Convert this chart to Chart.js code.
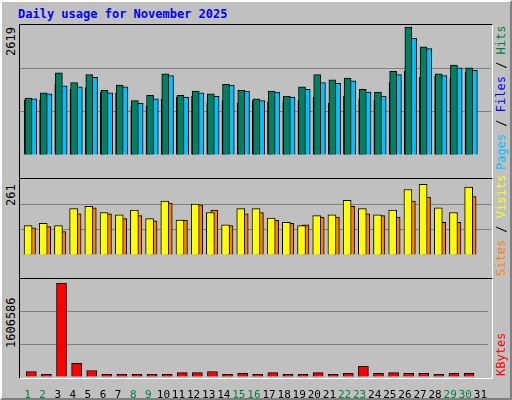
<!DOCTYPE html>
<html><head><meta charset="utf-8">
<script src="https://cdn.jsdelivr.net/npm/chart.js@4"></script>
<style>
body{margin:0;width:512px;height:400px;overflow:hidden;background:#c0c0c0;font-family:"DejaVu Sans Mono",monospace}
#frame{position:absolute;left:0;top:0;width:508px;height:396px;border-top:2px solid #fff;border-left:2px solid #fff;border-right:2px solid #808080;border-bottom:2px solid #808080}
#title{position:absolute;left:18px;top:7px;color:#0000ff;font-weight:bold;font-size:12px}
.panel{position:absolute;left:19px;width:472px;border-top:1px solid #000;border-left:1px solid #000;border-right:1px solid #fff;border-bottom:1px solid #fff}
.vl{position:absolute;transform:rotate(-90deg);transform-origin:left top;white-space:nowrap;font-size:12px}
</style></head><body>
<div id="frame"></div>
<div id="title">Daily usage for November 2025</div>
<div class="panel" style="top:24px;height:153px"></div>
<div class="panel" style="top:178px;height:99px"></div>
<div class="panel" style="top:278px;height:99px"></div>
<canvas id="c1" width="471" height="152" style="position:absolute;left:20px;top:25px;width:471px;height:152px"></canvas>
<canvas id="c2" width="471" height="98" style="position:absolute;left:20px;top:179px;width:471px;height:98px"></canvas>
<canvas id="c3" width="471" height="120" style="position:absolute;left:20px;top:279px;width:471px;height:120px"></canvas>
<div class="vl" style="left:4px;top:56px">2619</div>
<div class="vl" style="left:4px;top:206px">261</div>
<div class="vl" style="left:4px;top:348px">1606586</div>
<div class="vl" style="left:494px;top:170px"><span style="color:#00c0ff">Pages</span> / <span style="color:#0000ff">Files</span> / <span style="color:#008040">Hits</span></div>
<div class="vl" style="left:494px;top:276px"><span style="color:#ff8000">Sites</span> / <span style="color:#ffff00">Visits</span></div>
<div class="vl" style="left:494px;top:376px"><span style="color:#ff0000">KBytes</span></div>
<script>
const days=[1,2,3,4,5,6,7,8,9,10,11,12,13,14,15,16,17,18,19,20,21,22,23,24,25,26,27,28,29,30,31];
const hits=[1147,1252,1653,1461,1618,1304,1409,1095,1200,1636,1200,1287,1234,1426,1304,1130,1287,1182,1374,1618,1514,1548,1322,1269,1688,2579,2177,1636,1811,1758,0];
const files=[1130,1234,1392,1374,1566,1252,1374,1042,1130,1601,1165,1252,1182,1409,1287,1095,1269,1165,1322,1461,1444,1496,1269,1182,1618,2352,2142,1601,1758,1706,0];
const pages=[1112,1112,1426,1322,1357,1269,1252,973,990,1130,1165,1182,1060,1095,1042,1095,1077,1077,1095,1165,1042,1182,1130,1095,1461,1688,1566,1583,1548,1671,0];
const visits=[101,109,101,159,167,146,138,154,125,185,120,175,146,104,159,159,127,112,101,135,138,188,159,138,154,225,243,162,146,233,0];
const sites=[93,98,80,141,162,141,125,135,117,178,120,172,154,101,141,146,120,109,104,130,130,167,141,135,130,185,199,112,112,201,0];
const kbytes=[89900,45000,1539000,224700,106700,45000,45000,45000,45000,45000,73000,73000,89900,45000,61800,45000,73000,45000,45000,73000,45000,61800,174000,61800,73000,61800,61800,45000,61800,61800,0];
const weekend=[1,2,8,9,15,16,22,23,29,30];
const pts=(arr,off)=>arr.map((v,i)=>({x:days[i]+off,y:v}));
function ds(arr,off,color,w){return {data:pts(arr,off),backgroundColor:color,borderColor:'#000',borderWidth:1,borderSkipped:'bottom',barThickness:w,grouped:false};}
function mk(id,datasets,max,showX){
  return new Chart(document.getElementById(id),{type:'bar',data:{datasets},
    options:{responsive:false,devicePixelRatio:1,animation:false,layout:{padding:0},
      plugins:{legend:{display:false},tooltip:{enabled:false}},
      scales:{
        x:{type:'linear',min:0.5,max:31.5,offset:false,grid:{display:false},border:{display:false},
          display:showX,afterFit:s=>{s.height=22;},
          afterBuildTicks:s=>{s.ticks=days.map(d=>({value:d}));},
          ticks:{autoSkip:false,maxRotation:0,padding:4,font:{family:'DejaVu Sans Mono',size:11},
            callback:v=>String(v),
            color:c=>weekend.includes(c.tick.value)?'#008040':'#000'}},
        y:{min:0,max:max,afterFit:s=>{s.width=0;},border:{display:false},
          ticks:{display:false,stepSize:max/3},
          grid:{drawTicks:false,color:c=>(c.tick.value>0&&c.tick.value<max-1)?'#808080':'rgba(0,0,0,0)'}}
      }}});
}
mk('c1',[ds(hits,0.06,'#008060',7),ds(pages,-0.08,'#0000ff',4),ds(files,0.34,'#00c0ff',8)],2619,false);
mk('c2',[ds(visits,0.03,'#ffff00',8),ds(sites,0.29,'#ff8000',7)],261,false);
mk('c3',[ds(kbytes,0.25,'#ff0000',10)],1606586,true);
</script></body></html>
